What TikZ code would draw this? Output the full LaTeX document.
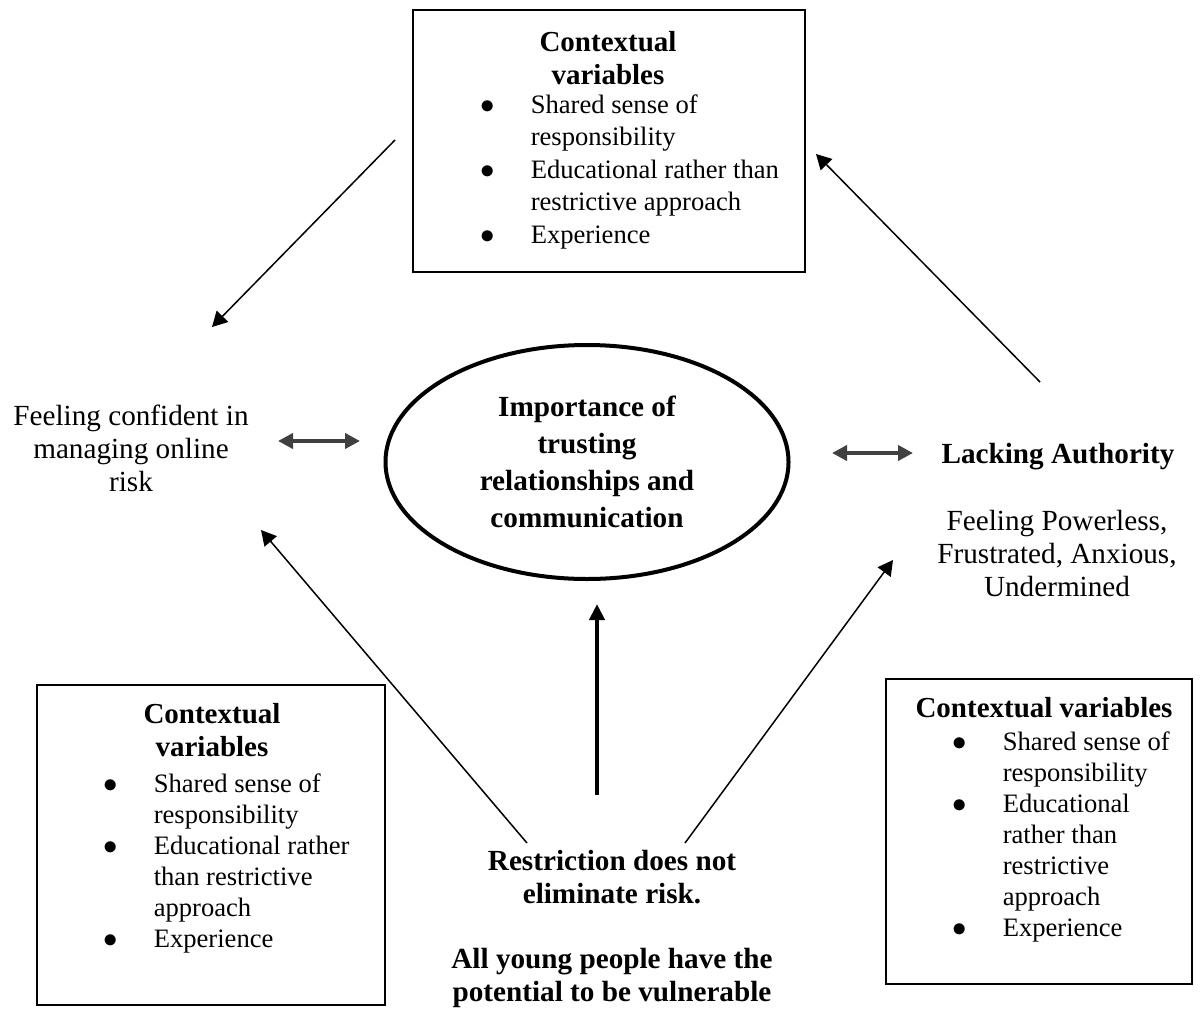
\documentclass[tikz,border=0pt]{standalone}
\usepackage{fontspec}
\setmainfont{Liberation Serif}
\usetikzlibrary{shapes.geometric,arrows.meta}
\definecolor{arrowgray}{HTML}{404040}

\begin{document}
\begin{tikzpicture}[x=0.5pt,y=-0.5pt,
        txt/.style={align=center,inner sep=0pt,anchor=base,font=\fontsize{14.6}{16.5}\selectfont},
        boldtxt/.style={txt,font=\fontsize{14.6}{16.5}\selectfont\bfseries},
        cvbox/.style={draw,rectangle,line width=0.75pt,inner sep=0pt},
        cvhead/.style={boldtxt,font=\fontsize{14.5}{16.5}\selectfont\bfseries},
        cvlist/.style={anchor=base west,inner sep=0pt},
        link/.style={-{Triangle[length=7.5pt,width=8pt]},line width=0.75pt},
        both/.style={{Triangle[length=7.5pt,width=7.5pt]}-{Triangle[length=7.5pt,width=7.5pt]},line width=2pt,arrowgray},
        push/.style={-{Triangle[length=8pt,width=7.5pt]},line width=2pt}]
    \useasboundingbox (0,0) rectangle (1204,1012);
    % Define the three boxes of contextual variables
    \node[cvbox,minimum width=196pt,minimum height=131pt] (topbox) at (609,141) {};
    \node[cvbox,minimum width=174pt,minimum height=160pt] (lbox) at (211,845) {};
    \node[cvbox,minimum width=153pt,minimum height=152.5pt] (rbox) at (1039,831.5) {};
    \node[cvhead] (tophead) at (608,84) {Contextual\\variables};
    \node[cvhead] (lhead) at (212,756) {Contextual\\variables};
    \node[cvhead] (rhead) at (1044,717) {Contextual variables};
    \node[cvlist,font=\fontsize{13.3}{16.25}\selectfont] (toplist) at (480.4,113) {%
        \begin{tabular}[t]{@{}p{25pt}@{}l@{}}
            $\bullet$ & Shared sense of\\
                      & responsibility\\
            $\bullet$ & Educational rather than\\
                      & restrictive approach\\
            $\bullet$ & Experience
        \end{tabular}};
    \node[cvlist,font=\fontsize{13.3}{15.5}\selectfont] (llist) at (103.4,792) {%
        \begin{tabular}[t]{@{}p{25pt}@{}l@{}}
            $\bullet$ & Shared sense of\\
                      & responsibility\\
            $\bullet$ & Educational rather\\
                      & than restrictive\\
                      & approach\\
            $\bullet$ & Experience
        \end{tabular}};
    \node[cvlist,font=\fontsize{13.3}{15.5}\selectfont] (rlist) at (952.4,750) {%
        \begin{tabular}[t]{@{}p{25pt}@{}l@{}}
            $\bullet$ & Shared sense of\\
                      & responsibility\\
            $\bullet$ & Educational\\
                      & rather than\\
                      & restrictive\\
                      & approach\\
            $\bullet$ & Experience
        \end{tabular}};
    % Define the nodes round the centre
    \node[draw,ellipse,line width=2pt,minimum width=201.5pt,minimum height=117pt,inner sep=0pt,
          align=center,font=\fontsize{14.6}{18.5}\selectfont\bfseries] (trust) at (587,462)
          {Importance of\\trusting\\relationships and\\communication};
    \node[txt] (feel) at (131,491) {Feeling confident in\\managing online\\risk};
    \node[boldtxt] (lack) at (1058,463) {Lacking Authority};
    \node[txt] (power) at (1057,596) {Feeling Powerless,\\Frustrated, Anxious,\\Undermined};
    \node[boldtxt] (restrict) at (612,903) {Restriction does not\\eliminate risk.};
    \node[boldtxt] (vuln) at (612,1001) {All young people have the\\potential to be vulnerable};
    % Free ends of the arrows
    \coordinate (tl-a) at (395,140);
    \coordinate (tl-b) at (212,327);
    \coordinate (tr-a) at (1040,382);
    \coordinate (tr-b) at (816,154);
    \coordinate (bl-a) at (527,843);
    \coordinate (bl-b) at (261,530);
    \coordinate (br-a) at (685,843);
    \coordinate (br-b) at (893,560);
    \coordinate (up-a) at (597,795);
    \coordinate (up-b) at (597,604);
    \coordinate (lx-a) at (278,441);
    \coordinate (lx-b) at (360,441);
    \coordinate (rx-a) at (832,453);
    \coordinate (rx-b) at (913,453);
    % Connect the nodes
    \draw[link] (tl-a) -- (tl-b);
    \draw[link] (tr-a) -- (tr-b);
    \draw[link] (bl-a) -- (bl-b);
    \draw[link] (br-a) -- (br-b);
    \draw[push] (up-a) -- (up-b);
    \draw[both] (lx-a) -- (lx-b);
    \draw[both] (rx-a) -- (rx-b);
\end{tikzpicture}
\end{document}
